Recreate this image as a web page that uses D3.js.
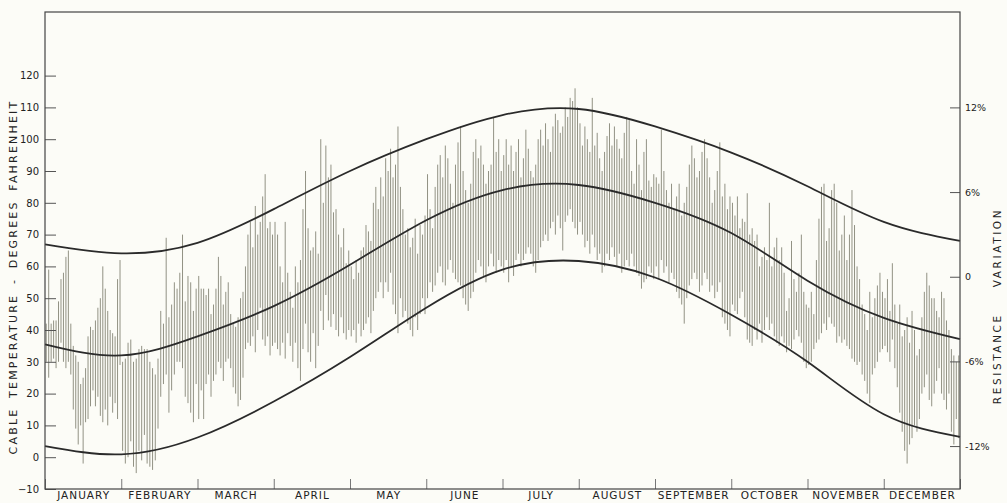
<!DOCTYPE html>
<html><head><meta charset="utf-8">
<script src="https://cdn.jsdelivr.net/npm/d3@7/dist/d3.min.js"></script>
<style>
body{margin:0;background:#fcfcf7;}
svg{display:block;}
text{font-family:"DejaVu Sans",sans-serif;fill:#222;}
</style>
</head><body>
<svg id="chart" width="1007" height="503"></svg>
<script>
// ---------- DATA ----------
const months = ["JANUARY","FEBRUARY","MARCH","APRIL","MAY","JUNE","JULY","AUGUST","SEPTEMBER","OCTOBER","NOVEMBER","DECEMBER"];
const tempTicks = [-10,0,10,20,30,40,50,60,70,80,90,100,110,120];
const pctTicks = [-12,-6,0,6,12];
const pctLabels = ["-12%","-6%","0","6%","12%"];

// daily cable temperature range (°F): highs and lows, per month
const janHigh = [42,59,42,43,43,49,56,58,63,65,42,35,32,30,23,25,28,38,41,40,43,47,50,60,53,46,40,39,38,56,62];
const janLow  = [30,25,30,31,28,30,36,30,28,30,26,15,9,4,10,-2,11,12,16,21,16,19,13,11,15,10,19,14,17,12,29];
const febHigh = [30,31,36,37,30,31,34,35,34,34,30,28,26,31,46,42,69,44,48,55,53,58,70,49,57,55,46,53];
const febLow  = [2,-2,0,5,-3,-5,2,-1,7,-2,-3,-4,-1,9,19,23,26,14,21,26,30,30,28,19,17,14,11,23];
const marHigh = [57,53,53,51,53,45,48,53,63,57,48,52,55,45,42,41,44,50,52,60,70,74,66,79,70,74,82,89,72,74,70];
const marLow  = [12,21,12,23,26,19,24,26,30,28,24,30,31,28,22,20,16,18,25,34,36,35,38,33,40,47,37,35,38,32,35];
const aprHigh = [74,70,60,55,74,58,52,47,60,55,62,78,90,72,65,66,71,64,100,80,98,88,92,77,78,70,66,72,61,65];
const aprLow  = [36,34,32,36,31,39,35,30,36,28,24,34,42,33,30,39,28,35,46,40,51,43,41,45,40,38,44,39,37,40];
const mayHigh = [60,56,62,58,65,66,73,71,68,80,85,78,88,82,94,90,97,88,92,104,85,78,70,72,66,69,75,64,73,70,76];
const mayLow  = [38,40,36,42,38,40,42,44,39,46,50,52,55,50,55,52,58,48,45,39,50,44,46,42,40,38,44,40,45,50,45];
const junHigh = [89,78,72,85,92,95,88,98,94,86,80,92,99,104,90,84,80,86,96,100,94,98,92,86,90,92,107,96,100,90];
const junLow  = [50,55,52,54,58,60,55,54,59,62,58,56,55,54,50,48,46,50,52,58,62,60,57,55,60,64,60,58,62,60];
const julHigh = [95,100,92,98,90,96,100,88,94,103,97,90,88,92,100,103,98,105,100,96,104,108,106,102,104,110,107,113,112,116,110];
const julLow  = [58,62,55,60,57,62,64,60,62,64,66,64,60,58,62,66,68,70,68,72,74,70,76,72,65,74,76,78,74,72,70];
const augHigh = [105,98,104,100,96,113,98,102,94,90,96,101,105,98,104,100,97,94,102,107,106,90,86,100,92,84,96,100,87,85,89];
const augLow  = [74,70,66,68,64,70,66,62,64,58,60,64,62,66,63,60,64,58,60,62,60,64,60,58,57,53,55,56,60,58,56];
const sepHigh = [88,86,103,90,84,80,86,78,82,86,76,80,85,92,98,94,88,90,96,100,94,88,80,84,90,99,82,86,78,82];
const sepLow  = [60,56,62,58,60,55,58,56,52,50,48,42,50,54,56,58,56,52,54,58,56,52,54,50,52,55,44,42,40,38];
const octHigh = [80,76,82,72,75,74,83,70,72,68,70,60,63,66,62,80,60,66,69,62,66,58,46,50,68,56,52,58,70,52,48];
const octLow  = [48,46,45,50,52,44,37,36,35,40,37,42,36,40,44,40,42,38,36,35,38,36,33,35,34,37,40,38,36,30,28];
const novHigh = [47,52,45,62,75,85,86,68,72,84,86,80,65,70,76,62,70,84,73,60,56,48,45,40,52,44,50,54,58,52];
const novLow  = [29,30,34,36,37,39,42,40,44,42,41,36,38,36,37,35,34,31,30,29,30,26,24,20,17,26,28,30,33,34];
const decHigh = [50,56,46,61,48,42,48,38,40,44,36,46,40,32,34,44,52,58,54,50,50,46,44,52,50,43,40,34,32,30,32];
const decLow  = [35,33,30,37,28,22,14,8,2,-2,4,6,10,8,12,20,22,26,18,16,20,24,28,20,18,15,20,8,4,12,6];

// smooth curves (°F) read at month boundaries (Jan 1 ... Dec 31)
const upperCurve = [66.9,64.1,67.4,78.0,90.0,100.0,107.6,109.5,104.0,95.8,85.2,74.0,68.0];
const meanCurve  = [35.5,32.0,38.0,47.5,60.5,74.5,84.0,85.6,80.0,70.5,55.5,43.8,37.1];
const lowerCurve = [3.5,0.9,6.2,17.5,31.5,47.0,59.0,61.7,56.5,44.8,30.0,13.5,6.4];

const highs = [janHigh,febHigh,marHigh,aprHigh,mayHigh,junHigh,julHigh,augHigh,sepHigh,octHigh,novHigh,decHigh];
const lows  = [janLow,febLow,marLow,aprLow,mayLow,junLow,julLow,augLow,sepLow,octLow,novLow,decLow];

// ---------- CHART ----------
const svg = d3.select("#chart");
const L = 45, R = 960, T = 12, B = 489;

const x = d3.scaleLinear().domain([0,12]).range([L,R]);
const y = d3.scaleLinear().domain([-10,140]).range([B,T]);
const yPct = d3.scaleLinear().domain([-12,12]).range([y(3.5), y(110)]);

// daily bars
const days = [];
highs.forEach((hs,m) => hs.forEach((h,i) => days.push({pos: m + (i+0.5)/hs.length, hi: h, lo: lows[m][i]})));
svg.append("g").selectAll("line").data(days).join("line")
  .attr("x1", d => x(d.pos)).attr("x2", d => x(d.pos))
  .attr("y1", d => y(d.hi)).attr("y2", d => y(d.lo))
  .attr("stroke", "#929284").attr("stroke-width", 1);

// curves
const line = d3.line().x((d,i) => x(i)).y(d => y(d)).curve(d3.curveNatural);
[upperCurve, meanCurve, lowerCurve].forEach(c => {
  svg.append("path").attr("d", line(c)).attr("fill","none")
    .attr("stroke","#2a2a2a").attr("stroke-width",1.8);
});

// left axis
const gL = svg.append("g").attr("transform",`translate(${L},0)`)
  .call(d3.axisLeft(y).tickValues(tempTicks).tickSize(-11).tickPadding(6));
gL.select(".domain").remove();
gL.selectAll(".tick line").attr("stroke","#555").attr("stroke-width",1);
gL.selectAll(".tick text").attr("font-size",10).style("font-family","DejaVu Sans").attr("fill","#222");

// right axis
const gR = svg.append("g").attr("transform",`translate(${R},0)`)
  .call(d3.axisRight(yPct).tickValues(pctTicks).tickSize(-10).tickPadding(5)
    .tickFormat((d,i) => pctLabels[i]));
gR.select(".domain").remove();
gR.selectAll(".tick line").attr("stroke","#555").attr("stroke-width",1);
gR.selectAll(".tick text").attr("font-size",9.5).style("font-family","DejaVu Sans").attr("fill","#222");

// bottom axis: month boundary ticks
const gB = svg.append("g").attr("transform",`translate(0,${B})`)
  .call(d3.axisBottom(x).tickValues(d3.range(13)).tickSize(-10).tickFormat(""));
gB.select(".domain").remove();
gB.selectAll(".tick line").attr("stroke","#777").attr("stroke-width",1);

// month labels
const gM = svg.append("g").attr("transform",`translate(0,${B})`)
  .call(d3.axisBottom(x).tickValues(d3.range(12).map(i => i+0.5)).tickSize(0).tickPadding(3)
    .tickFormat((d,i) => months[i]));
gM.select(".domain").remove();
gM.selectAll(".tick text").attr("font-size",10.5).style("font-family","DejaVu Sans")
  .style("letter-spacing","1px").attr("fill","#1e1e1e");

// frame
svg.append("rect").attr("x",L).attr("y",T).attr("width",R-L).attr("height",B-T)
  .attr("fill","none").attr("stroke","#444").attr("stroke-width",1.2);

// axis titles
svg.append("text").attr("transform",`translate(17,277) rotate(-90)`)
  .attr("text-anchor","middle").attr("font-size",11).style("letter-spacing","2.2px")
  .style("word-spacing","4px")
  .text("CABLE TEMPERATURE - DEGREES FAHRENHEIT");
svg.append("text").attr("transform",`translate(1001,306) rotate(-90)`)
  .attr("text-anchor","middle").attr("font-size",10.5).style("letter-spacing","2.6px")
  .style("word-spacing","20px")
  .text("RESISTANCE VARIATION");
</script>
</body></html>
